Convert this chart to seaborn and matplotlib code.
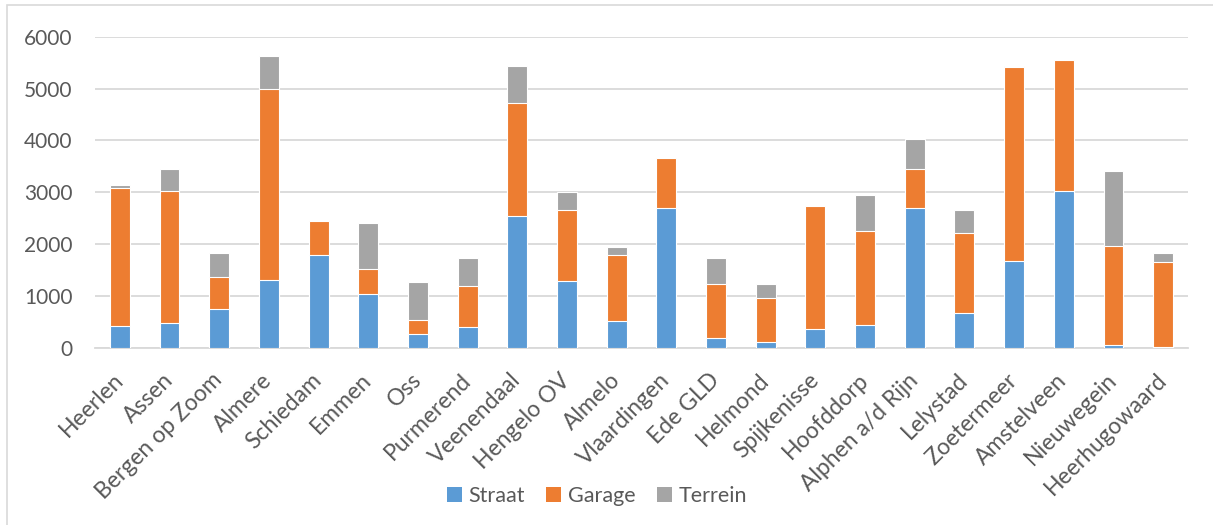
import matplotlib
matplotlib.use("Agg")
import matplotlib.pyplot as plt
from matplotlib.patches import Patch, Rectangle
import numpy as np
import pandas as pd
import seaborn as sns

# Parking capacity per city, split by type
cities = ["Heerlen", "Assen", "Bergen op Zoom", "Almere", "Schiedam", "Emmen",
          "Oss", "Purmerend", "Veenendaal", "Hengelo OV", "Almelo", "Vlaardingen",
          "Ede GLD", "Helmond", "Spijkenisse", "Hoofddorp", "Alphen a/d Rijn",
          "Lelystad", "Zoetermeer", "Amstelveen", "Nieuwegein", "Heerhugowaard"]
straat = [425, 470, 740, 1305, 1781, 1042, 257, 392, 2534, 1293, 521, 2688,
          193, 116, 354, 431, 2701, 662, 1672, 3016, 51, 10]
garage = [2655, 2560, 617, 3695, 656, 469, 270, 804, 2180, 1369, 1260, 971,
          1042, 849, 2379, 1813, 746, 1557, 3749, 2527, 1904, 1649]
terrein = [65, 425, 469, 627, 0, 901, 740, 527, 726, 335, 155, 0,
           488, 263, 0, 701, 579, 437, 10, 0, 1453, 167]
series = ["Straat", "Garage", "Terrein"]
colors = ["#5B9BD5", "#ED7D31", "#A5A5A5"]
yticks = [0, 1000, 2000, 3000, 4000, 5000, 6000]

df = pd.DataFrame({"stad": cities, "Straat": straat, "Garage": garage, "Terrein": terrein})
# cumulative tops for stacking: draw tallest first, then overlay lower segments
df["top_straat"] = df["Straat"]
df["top_garage"] = df["Straat"] + df["Garage"]
df["top_terrein"] = df["top_garage"] + df["Terrein"]

sns.set_theme(style="white")
plt.rcParams["font.family"] = ["Lato", "DejaVu Sans"]
text_color = "#595959"
grid_color = "#D9D9D9"

fig = plt.figure(figsize=(12.13, 5.25), dpi=100)
ax = fig.add_axes([95 / 1213, 1 - 347.7 / 525, (1188 - 95) / 1213, (347.7 - 36.7) / 525])

for col, color in zip(["top_terrein", "top_garage", "top_straat"], colors[::-1]):
    sns.barplot(data=df, x="stad", y=col, color=color, width=0.4, ax=ax,
                edgecolor="white", linewidth=0.8, saturation=1, zorder=3)

ax.set_xlim(-0.5, len(cities) - 0.5)
ax.set_ylim(0, 6000)
ax.set_yticks(yticks)
ax.set_yticklabels([str(v) for v in yticks])
ax.yaxis.grid(True, color=grid_color, linewidth=1.3, zorder=0)
ax.set_axisbelow(True)
for side in ["left", "right", "top"]:
    ax.spines[side].set_visible(False)
ax.spines["bottom"].set_color(grid_color)
ax.spines["bottom"].set_linewidth(1.3)
ax.set_xlabel("")
ax.set_ylabel("")
ax.tick_params(axis="y", length=0, pad=16, labelsize=15, labelcolor=text_color)
ax.tick_params(axis="x", length=0, pad=21, labelsize=16.5, labelcolor=text_color)
ax.set_xticks(range(len(cities)))
ax.set_xticklabels(cities, rotation=45, ha="right", va="center", rotation_mode="anchor")

handles = [Patch(facecolor=c, edgecolor="none") for c in colors]
fig.legend(handles, series, loc="center", bbox_to_anchor=(597 / 1213, 1 - 496 / 525),
           ncol=3, frameon=False, fontsize=15.5, labelcolor=text_color,
           handlelength=0.7, handleheight=0.7, handletextpad=0.3, columnspacing=1.0)

# light outer frame of the chart area
fig.patches.append(Rectangle((7 / 1213, -0.05), 1.05, 1 - 5 / 525 + 0.05,
                             transform=fig.transFigure, fill=False,
                             edgecolor=grid_color, linewidth=1.2))

fig.savefig("out.png", dpi=100)
